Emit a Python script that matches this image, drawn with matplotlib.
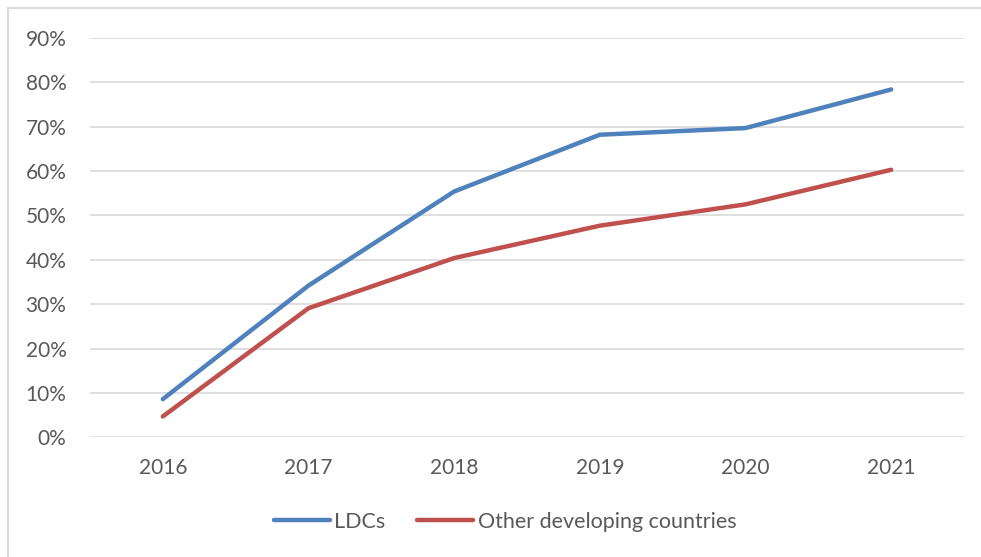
import matplotlib.pyplot as plt
from matplotlib.patches import Rectangle
from matplotlib.ticker import PercentFormatter

years = ['2016', '2017', '2018', '2019', '2020', '2021']
ldcs = [8.6, 34.2, 55.4, 68.2, 69.7, 78.4]
other_dev = [4.7, 29.1, 40.4, 47.7, 52.5, 60.3]

plt.rcParams['font.family'] = ['Lato', 'DejaVu Sans']

fig = plt.figure(figsize=(9.81, 5.57), dpi=100)
ax = fig.add_axes([90 / 981, (557 - 437.3) / 557, 874 / 981, (437.3 - 38) / 557])

# outer chart frame, cut off on the right and bottom
fig.patches.append(Rectangle((8 / 981, -0.1), 1.1, (557 - 8) / 557 + 0.1,
                             transform=fig.transFigure, fill=False,
                             edgecolor='#D9D9D9', linewidth=1.5))

x = range(len(years))
ax.plot(x, ldcs, color='#4F81BD', linewidth=3.2, solid_capstyle='round',
        solid_joinstyle='round', label='LDCs')
ax.plot(x, other_dev, color='#C0504D', linewidth=3.2, solid_capstyle='round',
        solid_joinstyle='round', label='Other developing countries')

ax.set_xlim(-0.5, len(years) - 0.5)
ax.set_ylim(0, 90)
ax.set_yticks(range(0, 91, 10))
ax.yaxis.set_major_formatter(PercentFormatter(decimals=0))
ax.set_xticks(list(x))
ax.set_xticklabels(years)

ax.grid(axis='y', color='#D9D9D9', linewidth=1.2)
ax.set_axisbelow(True)
for s in ax.spines.values():
    s.set_visible(False)
ax.tick_params(axis='both', length=0, labelsize=15, labelcolor='#595959')
ax.tick_params(axis='y', pad=17)
ax.tick_params(axis='x', pad=15)

fig.legend(loc='center', bbox_to_anchor=(505 / 981, (557 - 522) / 557), ncol=2,
           frameon=False, fontsize=15.5, labelcolor='#595959', handlelength=2.6,
           handletextpad=0.2, columnspacing=1.5)

fig.savefig('out.png', dpi=100)
